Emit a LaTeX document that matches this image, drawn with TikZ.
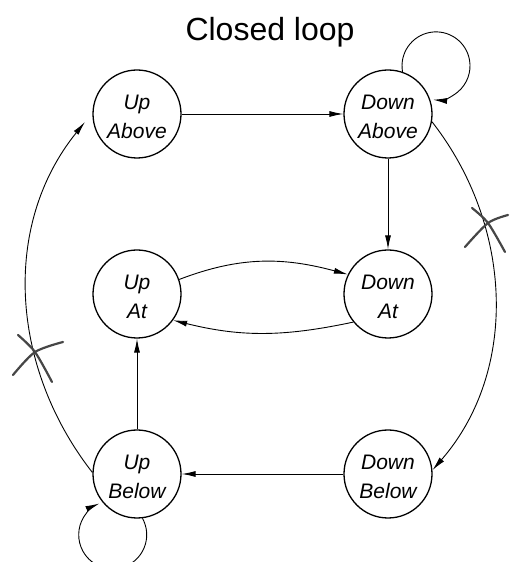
\documentclass[tikz,border=0pt]{standalone}
\usepackage{fontspec}
\setmainfont{Liberation Sans}
\usetikzlibrary{arrows.meta,calc}
\begin{document}
\begin{tikzpicture}[x=1pt,y=1pt,
  state/.style={circle,draw,line width=1.3pt,minimum size=88pt,inner sep=0pt},
  stext/.style={align=center,font=\fontsize{21}{29}\selectfont\itshape,yshift=-3pt},
  edge/.style={line width=0.9pt,-{Latex[length=14pt,width=6pt]}},
  cut/.style={line width=2.2pt,gray!55!black,line cap=round}]
\useasboundingbox (0,0) rectangle (509,562);

\node[font=\fontsize{32}{38}\selectfont] (title) at (270,530) {Closed loop};

% the six states
\node[state] (ua)  at (137,448) {};
\node[state] (da)  at (388,448) {};
\node[state] (uat) at (137,268) {};
\node[state] (dat) at (388,268) {};
\node[state] (ub)  at (137,88)  {};
\node[state] (db)  at (388,88)  {};
\node[stext] (ua-t)  at (ua)  {Up\\Above};
\node[stext] (da-t)  at (da)  {Down\\Above};
\node[stext] (uat-t) at (uat) {Up\\At};
\node[stext] (dat-t) at (dat) {Down\\At};
\node[stext] (ub-t)  at (ub)  {Up\\Below};
\node[stext] (db-t)  at (db)  {Down\\Below};

% straight transitions
\draw[edge] (ua) -- (da);
\draw[edge] (da) -- (dat);
\draw[edge] (ub) -- (uat);
\draw[edge] (db) -- (ub);

% transitions between the two middle states
\draw[edge] (uat.19) to[out=21,in=165] (dat.154);
\draw[edge] (dat.219) to[out=192,in=-14] (uat.324);

% self loops
\draw[edge] (da.71) arc[start angle=190,end angle=-95,radius=34];
\draw[edge] (ub.-83) arc[start angle=29,end angle=-247,radius=34];

% outer arcs
\coordinate (ua-in) at ($(ua.center)+(188.7:52.6)$);
\draw[edge] (ub.178) to[out=128,in=231,looseness=0.97] (ua-in);
\draw[edge] (da.-10) to[out=-52,in=49,looseness=0.97] (db.5);

% crossings that cut the outer arcs
\draw[cut] plot[smooth] coordinates {(472,354) (488,339) (505,310)};
\draw[cut] plot[smooth] coordinates {(465,315) (488,339) (508,347)};
\draw[cut] plot[smooth] coordinates {(18,227) (35,210) (52,180)};
\draw[cut] plot[smooth] coordinates {(13,187) (35,210) (63,220)};
\end{tikzpicture}
\end{document}
